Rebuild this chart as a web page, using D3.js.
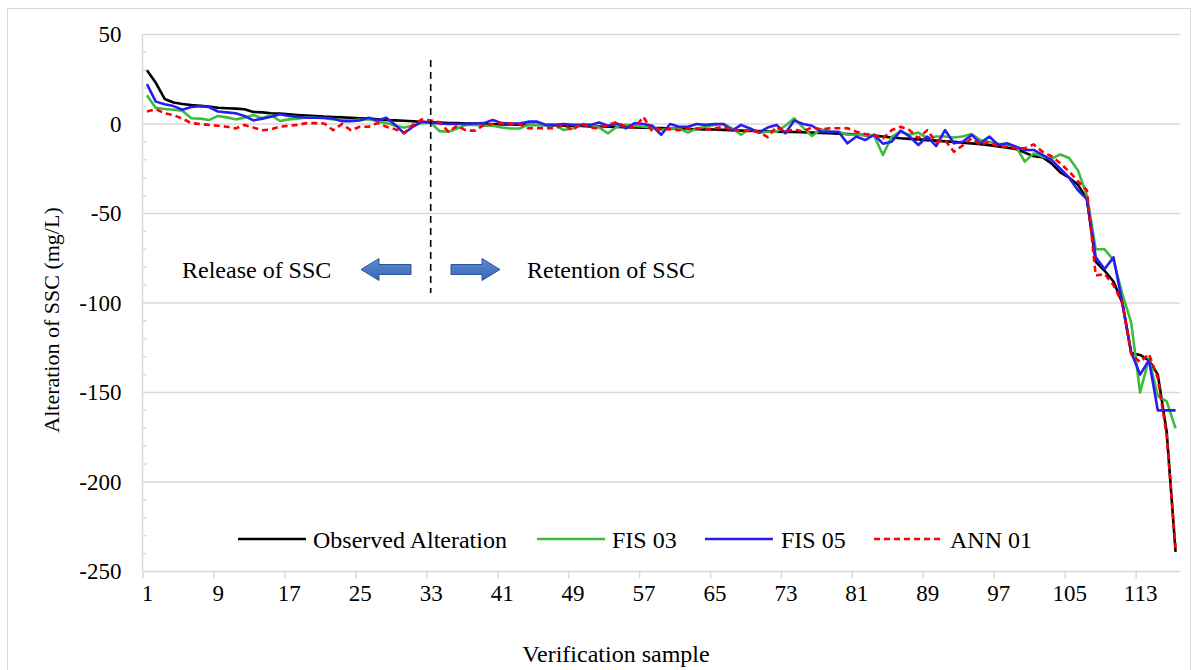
<!DOCTYPE html>
<html>
<head>
<meta charset="utf-8">
<script src="https://cdn.jsdelivr.net/npm/d3@7"></script>
<style>
html,body{margin:0;padding:0;background:#fff;}
svg{display:block;font-family:"Liberation Serif","Times New Roman",serif;}
</style>
</head>
<body>
<svg id="chart" width="1197" height="670"></svg>
<script>
// ---- data ----
const xTickLabels = [1, 9, 17, 25, 33, 41, 49, 57, 65, 73, 81, 89, 97, 105, 113];
const yTicks = [50, 0, -50, -100, -150, -200, -250];
const seriesNames = ["Observed Alteration", "FIS 03", "FIS 05", "ANN 01"];

const observed = [30,23,14,12,11.2,10.6,10.2,9.7,9.1,8.8,8.6,8.2,6.7,6.5,6,5.8,5.4,5,4.7,4.5,
4.1,3.9,3.7,3.5,3.2,3,2.6,2.2,2,1.8,1.5,1.2,1,0.8,0.6,0.5,0.3,0.2,0,-0.1,
-0.2,-0.3,-0.4,-0.5,-0.6,-0.7,-0.8,-0.9,-1,-1.1,-1.3,-1.4,-1.5,-1.6,-1.8,-1.9,-2,-2.2,-2.3,-2.5,
-2.6,-2.8,-2.9,-3,-3.1,-3.3,-3.5,-3.7,-3.8,-4,-4.1,-4.3,-4.4,-4.5,-4.6,-4.8,-5,-5.2,-5.4,-5.6,
-5.9,-6.2,-6.5,-7,-7.5,-8,-8.3,-8.6,-9,-9.3,-9.7,-10,-10.4,-10.8,-11.3,-11.8,-12.5,-13.2,-14,-16,
-18,-18.5,-22,-27,-30,-34,-42,-77,-82,-88,-100,-128,-129,-132,-140,-172,-239];

const fis03 = [16,9,8.4,8,7.4,3.2,3,2.2,4.5,3.7,2.6,3.5,5,3.2,5,1.7,2.6,3,3.7,3.5,
3.2,2.6,2.2,2,2.4,2.6,1.5,0.5,-1,-2,-1,0.5,0.8,-4,-4.3,-2.5,-0.5,-0.5,-1,-1,
-2,-2.5,-2.5,-0.5,-0.5,-0.5,-0.5,-3.4,-2.5,-0.5,-0.5,-2,-5.2,-1.5,-0.5,-1,-1.5,-2,-3.4,-2.5,
-2.5,-4.8,-2.5,-1.5,-0.5,0,-2.5,-6,-2.5,-5,-4.3,-4.3,-1,3.2,-2,-6.7,-3,-4.3,-4.3,-6,
-6,-6,-6.5,-17.3,-7,-4.3,-6,-4.8,-8,-7,-7,-7.5,-7,-5.6,-9,-10,-11,-11.5,-12.7,-21,
-16.4,-18.2,-19.5,-17,-19,-26,-40,-70,-70,-76,-95,-111,-150,-131,-152,-155,-170];

const fis05 = [22.3,12.5,11,10,8,9.5,10,9.5,7,6.5,6,4.5,2,3,4,5.5,4.5,4,3.5,3.5,
3.5,3,1.5,1.5,2,3.5,2,3.5,-0.5,-5.2,-1.5,1.3,0.7,0.3,0,0,0,0.3,0.5,2.2,
0.5,0.3,0.3,1.3,1.3,-0.5,-0.5,0,-0.5,-0.5,-0.5,0.8,-1,0.3,-2.4,0.5,0,-1,-6,0,
-1.5,-1.5,0,-0.5,0,0,-3.7,-0.5,-2.5,-4.8,-2,-0.5,-5.2,1.9,0,-1,-4.3,-4.3,-4.5,-10.8,
-7,-9,-6,-11,-9.9,-3.7,-7,-11.7,-7,-12.3,-3.4,-10.8,-9.9,-6.1,-10.8,-7,-11.7,-10.8,-12.7,-14.5,
-14.5,-17.3,-20,-25,-30,-37,-42,-74.5,-81,-74.5,-100,-127.6,-140,-132,-160,-160,-160];

const ann01 = [7,8.2,6,5,3,0.5,0,-0.5,-1,-1.5,-2.5,-0.5,-2,-3.5,-3,-1.5,-1,-0.5,0.5,0.5,
0.3,-3.5,0,-3.5,-1.5,-1.5,0.5,-1.5,-3,-5,-0.5,2.6,2,1,-4.3,-1,-3.7,-3.7,-0.5,0,
0.5,0.3,0,-2.4,-2.4,-2.4,-2.4,-0.5,-3.4,0.5,-2,-2.4,-0.5,1,-1.5,-2,4,-4.3,-2.5,-3,
-3.5,-2.5,-2.5,-3,-2.5,-1.5,-3.4,-3.7,-4,-4.5,-7.4,-1.5,-4.3,-3,-4.3,-1.8,-3,-2.4,-2.4,-2.4,
-4.3,-5.6,-6,-8,-3.4,-1.5,-3.4,-8,-3.4,-10,-9,-15.5,-12,-8,-11.7,-10,-12.7,-12.7,-13.6,-13.6,
-11.4,-15.5,-18,-22,-26.6,-32,-37,-84.7,-83.8,-90,-100,-128.5,-133,-128.5,-142,-174,-237];

const dividerSample = 33;

// ---- layout ----
const svg = d3.select("#chart");
const W = 1197, H = 670;
const plot = {left: 142.5, right: 1180, top: 34.5, bottom: 571.5};
const N = observed.length;
const fmt = d => String(d);

svg.append("rect").attr("x", 7.5).attr("y", 8.5).attr("width", W - 14).attr("height", H - 8)
  .attr("fill", "#fff").attr("stroke", "#d9d9d9").attr("stroke-width", 1);

const x = d3.scaleLinear().domain([0.5, N + 0.5]).range([plot.left, plot.right]);
const y = d3.scaleLinear().domain([-250, 50]).range([plot.bottom, plot.top]);

// gridlines
svg.append("g").selectAll("line").data(yTicks.filter(v => v !== -250)).join("line")
  .attr("x1", plot.left).attr("x2", plot.right)
  .attr("y1", d => y(d)).attr("y2", d => y(d))
  .attr("stroke", "#d9d9d9").attr("stroke-width", 1.5);

// minor y ticks (inside)
const minor = d3.range(-240, 50, 10).filter(v => v % 50 !== 0);
svg.append("g").selectAll("line").data(minor).join("line")
  .attr("x1", plot.left).attr("x2", plot.left + 4)
  .attr("y1", d => y(d)).attr("y2", d => y(d))
  .attr("stroke", "#d9d9d9").attr("stroke-width", 1.5);

// y axis line
svg.append("line").attr("x1", plot.left).attr("x2", plot.left)
  .attr("y1", plot.top).attr("y2", plot.bottom).attr("stroke", "#d9d9d9").attr("stroke-width", 1.5);

// y tick labels
const yAxis = d3.axisLeft(y).tickValues(yTicks).tickSize(0).tickPadding(0).tickFormat(fmt);
const gy = svg.append("g").attr("transform", `translate(${plot.left - 21},0)`).call(yAxis);
gy.select(".domain").remove();
gy.selectAll("text").attr("font-size", 23).attr("fill", "#000")
  .attr("font-family", "Liberation Serif");

// x axis: ticks at category boundaries
const tickBounds = d3.range(0.5, N + 0.5, 8);
const xTickAxis = d3.axisBottom(x).tickValues(tickBounds).tickSize(7).tickFormat("");
const gxt = svg.append("g").attr("transform", `translate(0,${plot.bottom})`).call(xTickAxis);
gxt.select(".domain").attr("stroke", "#d9d9d9").attr("stroke-width", 1.5)
  .attr("d", `M${plot.left},0H${plot.right}`);
gxt.selectAll(".tick line").attr("stroke", "#d9d9d9").attr("stroke-width", 1.5);

const xLabelAxis = d3.axisBottom(x).tickValues(xTickLabels).tickSize(0).tickPadding(13).tickFormat(fmt);
const gxl = svg.append("g").attr("transform", `translate(0,${plot.bottom})`).call(xLabelAxis);
gxl.select(".domain").remove();
gxl.selectAll("text").attr("font-size", 23).attr("fill", "#000").attr("font-family", "Liberation Serif");

// axis titles
svg.append("text").attr("x", 616).attr("y", 662).attr("text-anchor", "middle")
  .attr("font-size", 24).text("Verification sample");
svg.append("text").attr("transform", `translate(59,320) rotate(-90)`)
  .attr("text-anchor", "middle").attr("font-size", 22).text("Alteration of SSC (mg/L)");

// series
const series = [
  {name: seriesNames[0], data: observed, color: "#000000", dash: null},
  {name: seriesNames[1], data: fis03, color: "#3cbc3c", dash: null},
  {name: seriesNames[2], data: fis05, color: "#2a1cf0", dash: null},
  {name: seriesNames[3], data: ann01, color: "#ff0000", dash: "6,4"}
];
const line = d3.line().x((d, i) => x(i + 1)).y(d => y(d));
svg.append("g").selectAll("path").data(series).join("path")
  .attr("d", s => line(s.data)).attr("fill", "none")
  .attr("stroke", s => s.color).attr("stroke-width", 2.6)
  .attr("stroke-dasharray", s => s.dash).attr("stroke-linejoin", "round");

// divider
svg.append("line").attr("x1", x(dividerSample)).attr("x2", x(dividerSample))
  .attr("y1", 60).attr("y2", 293).attr("stroke", "#000").attr("stroke-width", 1.6)
  .attr("stroke-dasharray", "7,5");

// annotations
svg.append("text").attr("x", 182).attr("y", 278).attr("font-size", 24).text("Release of SSC");
svg.append("text").attr("x", 527).attr("y", 278).attr("font-size", 24).text("Retention of SSC");

function arrow(x0, x1, yc) {
  const dir = x1 > x0 ? 1 : -1;
  const headLen = 18, shaftH = 5, headH = 11;
  const xb = x1 - dir * headLen;
  return `M${x0},${yc - shaftH}L${xb},${yc - shaftH}L${xb},${yc - headH}L${x1},${yc}L${xb},${yc + headH}L${xb},${yc + shaftH}L${x0},${yc + shaftH}Z`;
}
const grad = svg.append("defs").append("linearGradient").attr("id", "ag")
  .attr("x1", 0).attr("y1", 0).attr("x2", 0).attr("y2", 1);
grad.append("stop").attr("offset", "0%").attr("stop-color", "#5b8bd6");
grad.append("stop").attr("offset", "100%").attr("stop-color", "#3a66b0");
svg.append("path").attr("d", arrow(411, 361, 269.5)).attr("fill", "url(#ag)").attr("stroke", "#2f5597").attr("stroke-width", 1);
svg.append("path").attr("d", arrow(451, 500, 269.5)).attr("fill", "url(#ag)").attr("stroke", "#2f5597").attr("stroke-width", 1);

// legend
const legendItems = [
  {s: series[0], lx: 238, tx: 313},
  {s: series[1], lx: 537, tx: 612},
  {s: series[2], lx: 705, tx: 781},
  {s: series[3], lx: 874, tx: 950}
];
const lg = svg.append("g");
legendItems.forEach(it => {
  lg.append("line").attr("x1", it.lx).attr("x2", it.lx + 68).attr("y1", 539).attr("y2", 539)
    .attr("stroke", it.s.color).attr("stroke-width", 2.6).attr("stroke-dasharray", it.s.dash);
  lg.append("text").attr("x", it.tx).attr("y", 547.5).attr("font-size", 24).text(it.s.name);
});
</script>
</body>
</html>
